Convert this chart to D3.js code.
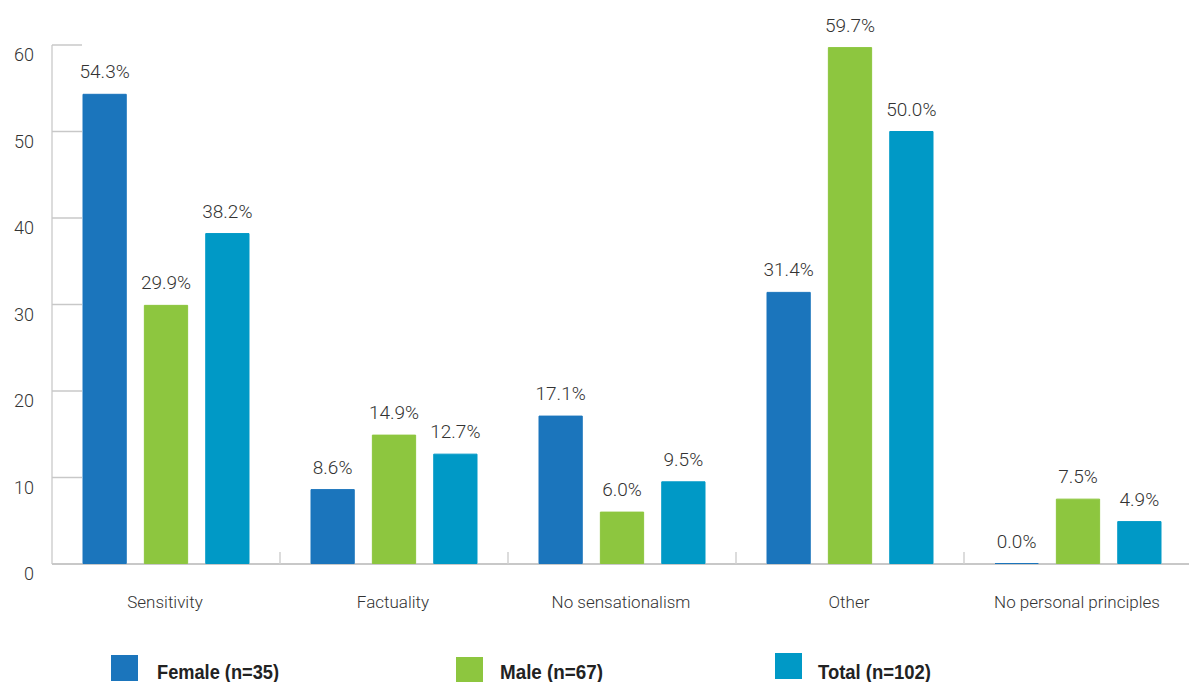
<!DOCTYPE html>
<html>
<head>
<meta charset="utf-8">
<script src="https://cdn.jsdelivr.net/npm/d3@7"></script>
<style>
  html, body { margin: 0; padding: 0; background: #fff; }
  svg { display: block; }
  .lbl { font-family: Roboto, "Liberation Sans", sans-serif; font-weight: 300; fill: #333; }
  .leg { font-family: "Liberation Sans", Arial, sans-serif; font-weight: bold; fill: #222; }
</style>
</head>
<body>
<script>
// Principles data, percent of respondents per group
const categories = ["Sensitivity", "Factuality", "No sensationalism", "Other", "No personal principles"];
const seriesNames = ["Female (n=35)", "Male (n=67)", "Total (n=102)"];
const female = [54.3, 8.6, 17.1, 31.4, 0.0];
const male = [29.9, 14.9, 6.0, 59.7, 7.5];
const total = [38.2, 12.7, 9.5, 50.0, 4.9];
const yTicks = [0, 10, 20, 30, 40, 50, 60];
const colors = ["#1b75bc", "#8dc63f", "#0099c6"];

const W = 1189, H = 682;
const svg = d3.select("body").append("svg").attr("width", W).attr("height", H);

const left = 52, baseY = 564;
const x0 = d3.scaleBand().domain(categories).range([left, left + 5 * 228]);
const x1 = d3.scaleBand().domain(seriesNames).range([31, 197]).paddingInner(0.295).paddingOuter(0);
const y = d3.scaleLinear().domain([0, 60]).range([baseY, 45]);

const seriesVals = [female, male, total];

// y axis line, short inner ticks and labels
const gAxis = svg.append("g");
gAxis.append("line").attr("x1", left).attr("x2", left).attr("y1", y(60)).attr("y2", baseY)
  .attr("stroke", "#d0d0d0").attr("stroke-width", 1.5);
gAxis.selectAll("line.tick").data(yTicks).join("line").attr("class", "tick")
  .attr("x1", left).attr("x2", 82).attr("y1", d => y(d)).attr("y2", d => y(d))
  .attr("stroke", "#c8c8c8").attr("stroke-width", 1.5);
gAxis.selectAll("text").data(yTicks).join("text").attr("class", "lbl")
  .attr("x", 34).attr("y", d => y(d) + 16).attr("text-anchor", "end")
  .attr("font-size", 18).text(d => d);

// baseline and category separators
svg.append("line").attr("x1", left).attr("x2", W).attr("y1", baseY).attr("y2", baseY)
  .attr("stroke", "#c8c8c8").attr("stroke-width", 2);
svg.selectAll("line.sep").data(categories.slice(1)).join("line").attr("class", "sep")
  .attr("x1", d => x0(d)).attr("x2", d => x0(d)).attr("y1", baseY - 12).attr("y2", baseY)
  .attr("stroke", "#d0d0d0").attr("stroke-width", 1.5);

// bars (as paths so a zero value still shows as a thin line on the baseline)
const rows = [];
categories.forEach((c, i) => seriesNames.forEach((s, j) => rows.push({ c, s, j, v: seriesVals[j][i] })));

svg.append("g").selectAll("path").data(rows).join("path")
  .attr("d", d => {
    const bx = x0(d.c) + x1(d.s), bw = x1.bandwidth();
    const top = y(d.v), bottom = y(0) - 0.5;
    return `M${bx},${bottom}H${bx + bw}V${Math.min(top, bottom)}H${bx}Z`;
  })
  .attr("fill", d => colors[d.j])
  .attr("stroke", d => colors[d.j]).attr("stroke-width", 1);

// value labels
svg.append("g").selectAll("text").data(rows).join("text").attr("class", "lbl")
  .attr("x", d => x0(d.c) + x1(d.s) + x1.bandwidth() / 2)
  .attr("y", d => y(d.v) - 16)
  .attr("text-anchor", "middle").attr("font-size", 19)
  .text(d => d.v.toFixed(1) + "%");

// category labels
svg.append("g").selectAll("text").data(categories).join("text").attr("class", "lbl")
  .attr("x", d => x0(d) + x0.bandwidth() / 2 - 1)
  .attr("y", 608).attr("text-anchor", "middle").attr("font-size", 17)
  .text(d => d);

// legend (condensed bold labels)
const legX = [111, 456, 775];
const legY = [655, 657, 653];
const legT = [157, 500, 818];
const legW = [122, 103, 113];
const leg = svg.append("g");
seriesNames.forEach((s, j) => {
  leg.append("rect").attr("x", legX[j]).attr("y", legY[j]).attr("width", 27).attr("height", 26).attr("fill", colors[j]);
  leg.append("text").attr("class", "leg").attr("x", legT[j]).attr("y", 679).attr("font-size", 21)
    .attr("textLength", legW[j]).attr("lengthAdjust", "spacingAndGlyphs").text(s);
});
</script>
</body>
</html>
